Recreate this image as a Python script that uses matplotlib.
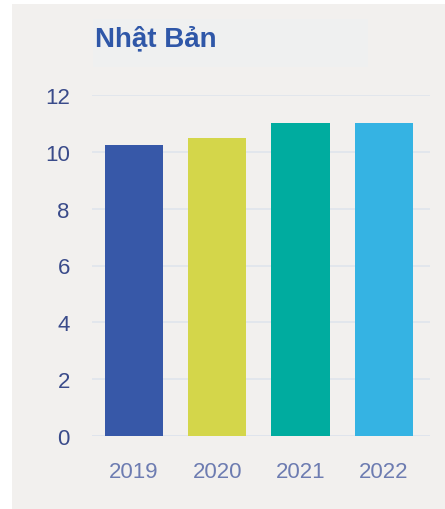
import matplotlib
matplotlib.use("Agg")
import matplotlib.pyplot as plt
from matplotlib.patches import Rectangle

plt.rcParams['font.family'] = ['Liberation Sans', 'DejaVu Sans']

years = ["2019", "2020", "2021", "2022"]
values = [10.25, 10.5, 11.0, 11.0]
colors = ["#3758a8", "#d4d64a", "#00ac9f", "#35b3e3"]
yticks = [0, 2, 4, 6, 8, 10, 12]
title = "Nhật Bản"

W, H = 445, 510
fig = plt.figure(figsize=(W / 100, H / 100), dpi=100, facecolor="white")

# panel background
fig.patches.append(Rectangle((12 / W, 0), 433 / W, 505 / H, transform=fig.transFigure,
                             facecolor="#f2f0ee", edgecolor="none", zorder=-2))
# title box
fig.patches.append(Rectangle((93 / W, 1 - 68 / H), 275 / W, 48 / H, transform=fig.transFigure,
                             facecolor="#eff0f0", edgecolor="none", zorder=-1))
fig.text(95 / W, 1 - 39 / H, title, fontsize=20, fontweight="bold", color="#2f57a8",
         va="center", ha="left", zorder=2)

ax = fig.add_axes([92 / W, 1 - 437 / H, 338 / W, (437 - 96) / H])
ax.set_zorder(5)
ax.set_facecolor("none")
x = list(range(len(years)))
ax.bar(x, values, width=0.7, color=colors, zorder=3)
ax.set_xlim(-0.5, 3.55)
ax.set_ylim(0, 12)
ax.set_yticks(yticks)
ax.set_xticks(x)
ax.set_xticklabels(years)
ax.grid(axis="y", color="#dfe4ec", linewidth=1.2, zorder=0)
ax.set_axisbelow(True)
for s in ax.spines.values():
    s.set_visible(False)
ax.axhline(0, color="#dfe4ec", linewidth=1.2, zorder=2)
ax.tick_params(axis="y", length=0, pad=16, labelsize=16, labelcolor="#3a4b8a")
ax.tick_params(axis="x", length=0, pad=18, labelsize=16, labelcolor="#6d7cb1")

fig.savefig("out.png", dpi=100, facecolor="white")
